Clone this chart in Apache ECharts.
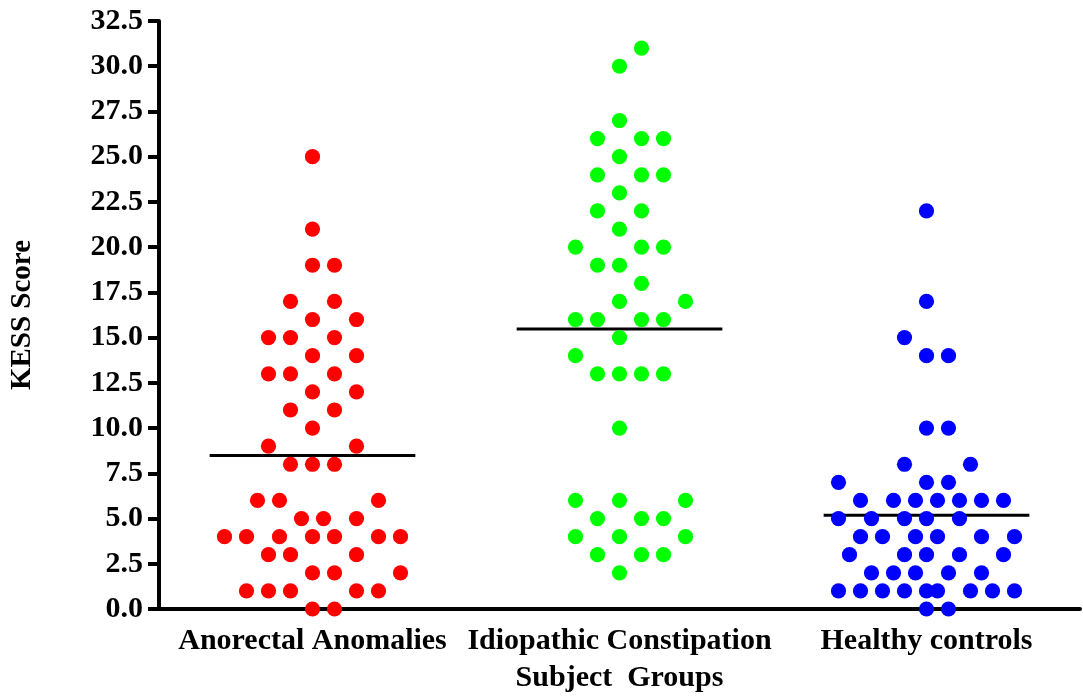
<!DOCTYPE html>
<html>
<head>
<meta charset="utf-8">
<title>KESS Score by Subject Group</title>
<script src="https://cdn.jsdelivr.net/npm/echarts@6/dist/echarts.min.js"></script>
<style>
  html, body { margin: 0; padding: 0; background: #ffffff; }
  #chart { width: 1083px; height: 698px; }
</style>
</head>
<body>
<div id="chart"></div>
<script>
// Subject groups shown along the x axis
const groups = ['Anorectal Anomalies', 'Idiopathic Constipation', 'Healthy controls'];

// KESS scores for each subject, one array per group
const anorectalScores = [
  0, 0, 1, 1, 1, 1, 1, 2, 2, 2, 3, 3, 3, 4, 4, 4, 4, 4, 4, 4,
  5, 5, 5, 6, 6, 6, 8, 8, 8, 9, 9, 10, 11, 11, 12, 12, 13, 13, 13,
  14, 14, 15, 15, 15, 16, 16, 17, 17, 19, 19, 21, 25
];
const constipationScores = [
  2, 3, 3, 3, 4, 4, 4, 5, 5, 5, 6, 6, 6, 10, 13, 13, 13, 13, 14, 15,
  16, 16, 16, 16, 17, 17, 18, 19, 19, 20, 20, 20, 21, 22, 22, 23,
  24, 24, 24, 25, 26, 26, 26, 27, 30, 31
];
const controlScores = [
  0, 0, 1, 1, 1, 1, 1, 1, 1, 1, 1, 2, 2, 2, 2, 2, 3, 3, 3, 3, 3,
  4, 4, 4, 4, 4, 4, 5, 5, 5, 5, 5, 6, 6, 6, 6, 6, 6, 6, 7, 7, 7,
  8, 8, 10, 10, 14, 14, 15, 17, 22
];

// Y axis tick labels
const yTicks = ['0.0', '2.5', '5.0', '7.5', '10.0', '12.5', '15.0', '17.5',
                '20.0', '22.5', '25.0', '27.5', '30.0', '32.5'];

const groupScores = [anorectalScores, constipationScores, controlScores];
const groupColors = ['#ff0000', '#00ff00', '#0000ff'];

const FONT = "'Liberation Serif', 'Times New Roman', serif";
const DOT_R = 7.6;      // dot radius in px
const STEP = 11;        // horizontal placement step for the swarm, px
const MAX_STEPS = 8;    // the swarm may spread this many steps either side
const MIN_DIST = 21.5;  // preferred minimum centre distance between dots

function mean(arr) {
  return arr.reduce((s, v) => s + v, 0) / arr.length;
}

// Greedy beeswarm: dots are placed from the lowest score up, each at the
// nearest slot around the group centre that keeps clear of earlier dots.
// When every slot within the allowed spread is crowded, the roomiest one wins.
function layoutSwarm(api, groupIndex, values) {
  const order = values.map((v, i) => i).sort((a, b) => values[a] - values[b]);
  const placed = [];
  const xs = new Array(values.length);
  order.forEach(idx => {
    const p = api.coord([groupIndex, values[idx]]);
    const cx = p[0], y = p[1];
    let bestX = cx, bestD = -1;
    for (let n = 0; n <= 2 * MAX_STEPS; n++) {
      const k = n === 0 ? 0 : (n % 2 === 1 ? (n + 1) / 2 : -n / 2);
      const x = cx + k * STEP;
      let d = Infinity;
      placed.forEach(q => { d = Math.min(d, Math.hypot(q[0] - x, q[1] - y)); });
      if (d >= MIN_DIST) { bestX = x; bestD = d; break; }
      if (d > bestD + 0.01) { bestD = d; bestX = x; }
    }
    placed.push([bestX, y]);
    xs[idx] = bestX;
  });
  return xs;
}

function swarmSeries(groupIndex) {
  const values = groupScores[groupIndex];
  return {
    type: 'custom',
    name: groups[groupIndex],
    z: 5,
    clip: false,
    data: values.map(v => [groupIndex, v]),
    renderItem: function (params, api) {
      if (!params.context.xs) {
        params.context.xs = layoutSwarm(api, groupIndex, values);
      }
      const y = api.coord([groupIndex, api.value(1)])[1];
      const x = params.context.xs[params.dataIndex];
      return {
        type: 'circle',
        shape: { cx: x, cy: y, r: DOT_R },
        style: { fill: groupColors[groupIndex] }
      };
    }
  };
}

// Horizontal line at each group's mean score
const meanSeries = {
  type: 'custom',
  name: 'mean',
  z: 3,
  clip: false,
  data: groupScores.map((arr, i) => [i, mean(arr)]),
  renderItem: function (params, api) {
    const p = api.coord([api.value(0), api.value(1)]);
    const half = api.size([1, 0])[0] * 0.335;
    return {
      type: 'line',
      shape: { x1: p[0] - half, y1: p[1], x2: p[0] + half, y2: p[1] },
      style: { stroke: '#000000', lineWidth: 3 }
    };
  }
};

const chart = echarts.init(document.getElementById('chart'), null, { renderer: 'canvas' });

chart.setOption({
  animation: false,
  backgroundColor: '#ffffff',
  grid: { left: 158, right: 3, top: 21, bottom: 89, containLabel: false },
  xAxis: {
    type: 'category',
    data: groups,
    boundaryGap: true,
    name: 'Subject  Groups',
    nameLocation: 'middle',
    nameGap: 54,
    nameTextStyle: { fontFamily: FONT, fontWeight: 'bold', fontSize: 30, color: '#000' },
    axisLine: { lineStyle: { color: '#000', width: 4 } },
    axisTick: { alignWithLabel: true, length: 9, lineStyle: { color: '#000', width: 4 } },
    axisLabel: { interval: 0, margin: 17, fontFamily: FONT, fontWeight: 'bold', fontSize: 30, color: '#000' },
    splitLine: { show: false }
  },
  yAxis: {
    type: 'value',
    min: 0,
    max: 32.5,
    interval: 2.5,
    name: 'KESS Score',
    nameLocation: 'middle',
    nameGap: 122,
    nameRotate: 90,
    nameTextStyle: { fontFamily: FONT, fontWeight: 'bold', fontSize: 29, color: '#000' },
    axisLine: { show: true, lineStyle: { color: '#000', width: 4 } },
    axisTick: { show: true, length: 11, lineStyle: { color: '#000', width: 4 } },
    axisLabel: {
      margin: 16,
      fontFamily: FONT, fontWeight: 'bold', fontSize: 30, color: '#000',
      formatter: function (v) {
        const i = Math.round(v / 2.5);
        return yTicks[i] !== undefined ? yTicks[i] : v.toFixed(1);
      }
    },
    splitLine: { show: false }
  },
  series: [meanSeries, swarmSeries(0), swarmSeries(1), swarmSeries(2)]
});
</script>
</body>
</html>
